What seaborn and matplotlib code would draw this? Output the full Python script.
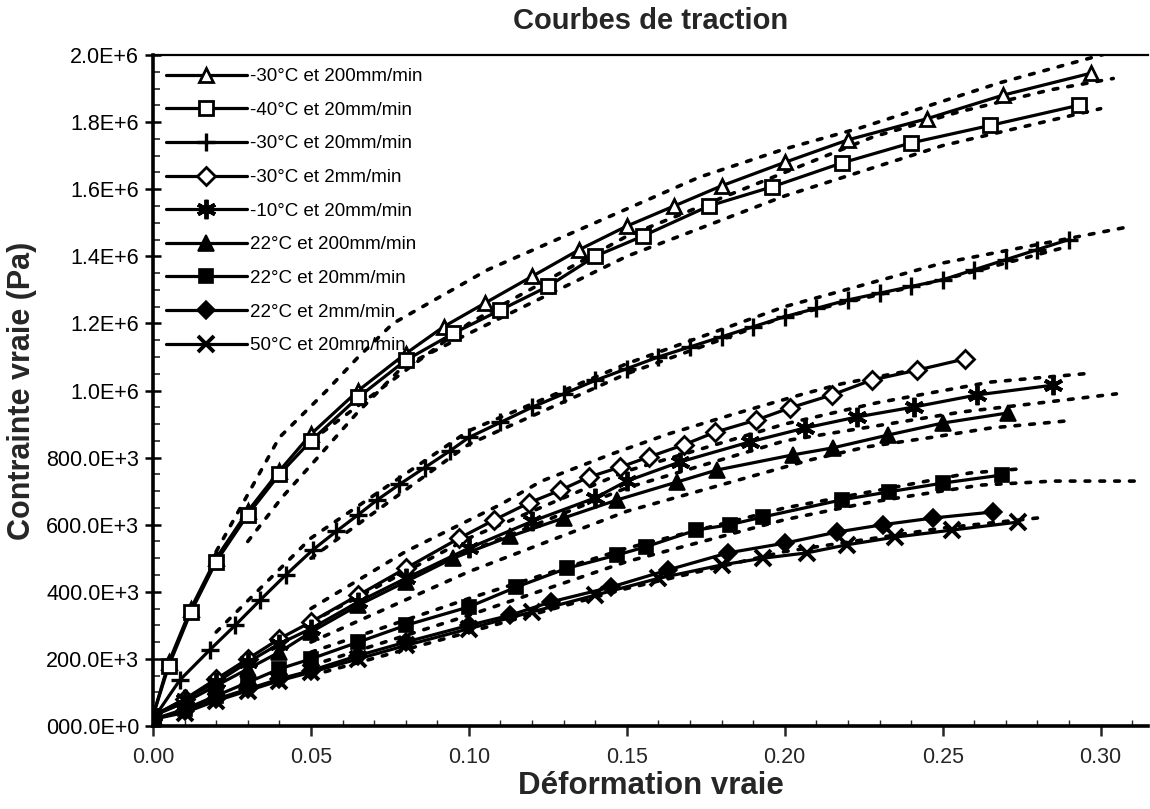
import matplotlib
matplotlib.use("Agg")
import matplotlib.pyplot as plt
from matplotlib.ticker import MultipleLocator
import seaborn as sns

# ---------------- data (true strain, true stress in Pa) ----------------
labels = ["-30°C et 200mm/min", "-40°C et 20mm/min", "-30°C et 20mm/min",
          "-30°C et 2mm/min", "-10°C et 20mm/min", "22°C et 200mm/min",
          "22°C et 20mm/min", "22°C et 2mm/min", "50°C et 20mm/min"]

x_s1 = [0.0, 0.005, 0.012, 0.02, 0.03, 0.04, 0.05, 0.065, 0.08, 0.092, 0.105, 0.12, 0.135,
        0.15, 0.165, 0.18, 0.20, 0.22, 0.245, 0.269, 0.297]
y_s1 = [0.03e6, 0.19e6, 0.35e6, 0.50e6, 0.64e6, 0.76e6, 0.87e6, 1.00e6, 1.11e6, 1.19e6, 1.26e6,
        1.34e6, 1.42e6, 1.49e6, 1.55e6, 1.61e6, 1.68e6, 1.747e6, 1.81e6, 1.88e6, 1.946e6]

x_s2 = [0.0, 0.005, 0.012, 0.02, 0.03, 0.04, 0.05, 0.065, 0.08, 0.095, 0.11, 0.125, 0.14,
        0.155, 0.176, 0.196, 0.218, 0.24, 0.265, 0.293]
y_s2 = [0.03e6, 0.18e6, 0.34e6, 0.49e6, 0.63e6, 0.75e6, 0.85e6, 0.98e6, 1.09e6, 1.17e6, 1.24e6,
        1.31e6, 1.40e6, 1.46e6, 1.55e6, 1.607e6, 1.678e6, 1.738e6, 1.79e6, 1.85e6]

x_s3 = [0.0, 0.0085, 0.018, 0.026, 0.034, 0.042, 0.0506, 0.058, 0.065, 0.071, 0.078, 0.086,
        0.094, 0.10, 0.11, 0.12, 0.13, 0.14, 0.15, 0.16, 0.17, 0.18, 0.19, 0.20, 0.21, 0.22,
        0.23, 0.24, 0.25, 0.26, 0.27, 0.28, 0.29]
y_s3 = [0.02e6, 0.137e6, 0.227e6, 0.30e6, 0.376e6, 0.45e6, 0.525e6, 0.58e6, 0.63e6, 0.674e6,
        0.72e6, 0.77e6, 0.82e6, 0.86e6, 0.905e6, 0.95e6, 0.99e6, 1.03e6, 1.065e6, 1.10e6,
        1.13e6, 1.16e6, 1.19e6, 1.22e6, 1.245e6, 1.27e6, 1.29e6, 1.31e6, 1.33e6, 1.36e6,
        1.39e6, 1.42e6, 1.45e6]

x_s4 = [0.0, 0.01, 0.02, 0.03, 0.04, 0.05, 0.065, 0.08, 0.097, 0.108, 0.119, 0.129, 0.138,
        0.148, 0.157, 0.168, 0.178, 0.191, 0.2016, 0.215, 0.2275, 0.242, 0.257]
y_s4 = [0.03e6, 0.08e6, 0.14e6, 0.20e6, 0.26e6, 0.31e6, 0.39e6, 0.47e6, 0.56e6, 0.614e6,
        0.665e6, 0.703e6, 0.742e6, 0.772e6, 0.802e6, 0.838e6, 0.876e6, 0.912e6, 0.948e6,
        0.987e6, 1.031e6, 1.061e6, 1.094e6]

x_s5 = [0.0, 0.01, 0.02, 0.03, 0.04, 0.05, 0.065, 0.08, 0.10, 0.12, 0.14, 0.15, 0.1668,
        0.189, 0.2063, 0.2228, 0.241, 0.261, 0.285]
y_s5 = [0.03e6, 0.08e6, 0.13e6, 0.19e6, 0.245e6, 0.29e6, 0.37e6, 0.44e6, 0.53e6, 0.61e6,
        0.68e6, 0.73e6, 0.787e6, 0.847e6, 0.888e6, 0.921e6, 0.951e6, 0.987e6, 1.016e6]

x_s6 = [0.0, 0.01, 0.02, 0.03, 0.04, 0.05, 0.065, 0.08, 0.095, 0.113, 0.13, 0.147, 0.1658,
        0.1785, 0.2025, 0.2152, 0.2326, 0.25, 0.2706]
y_s6 = [0.03e6, 0.07e6, 0.12e6, 0.17e6, 0.22e6, 0.28e6, 0.36e6, 0.43e6, 0.50e6, 0.565e6,
        0.62e6, 0.674e6, 0.727e6, 0.763e6, 0.808e6, 0.829e6, 0.867e6, 0.903e6, 0.933e6]

x_s7 = [0.0, 0.01, 0.02, 0.03, 0.04, 0.05, 0.065, 0.08, 0.10, 0.115, 0.131, 0.147, 0.156,
        0.172, 0.1826, 0.193, 0.218, 0.233, 0.25, 0.2687]
y_s7 = [0.02e6, 0.05e6, 0.09e6, 0.13e6, 0.17e6, 0.20e6, 0.25e6, 0.30e6, 0.355e6, 0.414e6,
        0.47e6, 0.51e6, 0.534e6, 0.584e6, 0.60e6, 0.623e6, 0.674e6, 0.698e6, 0.724e6, 0.748e6]

x_s8 = [0.0, 0.01, 0.02, 0.03, 0.04, 0.05, 0.065, 0.08, 0.10, 0.113, 0.126, 0.145, 0.163,
        0.182, 0.2, 0.2165, 0.231, 0.247, 0.266]
y_s8 = [0.02e6, 0.045e6, 0.08e6, 0.11e6, 0.14e6, 0.165e6, 0.21e6, 0.25e6, 0.30e6, 0.33e6,
        0.37e6, 0.414e6, 0.465e6, 0.516e6, 0.545e6, 0.578e6, 0.60e6, 0.62e6, 0.638e6]

x_s9 = [0.0, 0.01, 0.02, 0.03, 0.04, 0.05, 0.065, 0.08, 0.10, 0.12, 0.14, 0.16, 0.18, 0.193,
        0.207, 0.2196, 0.235, 0.253, 0.274]
y_s9 = [0.02e6, 0.04e6, 0.075e6, 0.105e6, 0.135e6, 0.16e6, 0.20e6, 0.24e6, 0.29e6, 0.34e6,
        0.39e6, 0.44e6, 0.48e6, 0.50e6, 0.516e6, 0.54e6, 0.563e6, 0.584e6, 0.608e6]

# dotted (model / bound) curves
xd1 = [0.02, 0.04, 0.055, 0.065, 0.076, 0.091, 0.106, 0.14, 0.173, 0.20, 0.224, 0.268, 0.308]
yd1 = [0.52e6, 0.86e6, 1.00e6, 1.10e6, 1.20e6, 1.28e6, 1.36e6, 1.50e6, 1.636e6, 1.72e6,
       1.783e6, 1.917e6, 2.02e6]
xd2 = [0.05, 0.10, 0.15, 0.20, 0.228, 0.255, 0.284, 0.304]
yd2 = [0.85e6, 1.20e6, 1.46e6, 1.65e6, 1.756e6, 1.83e6, 1.896e6, 1.93e6]
xd3 = [0.03, 0.041, 0.0506, 0.0646, 0.079, 0.10, 0.15, 0.20, 0.25, 0.30]
yd3 = [0.55e6, 0.683e6, 0.784e6, 0.933e6, 1.07e6, 1.17e6, 1.40e6, 1.58e6, 1.73e6, 1.84e6]
xd4 = [0.02, 0.05, 0.10, 0.15, 0.20, 0.25, 0.31]
yd4 = [0.28e6, 0.56e6, 0.88e6, 1.08e6, 1.25e6, 1.38e6, 1.49e6]
xd5 = [0.05, 0.10, 0.15, 0.20, 0.25, 0.29]
yd5 = [0.50e6, 0.84e6, 1.05e6, 1.22e6, 1.33e6, 1.43e6]
xd6 = [0.05, 0.08, 0.11, 0.123, 0.145, 0.163, 0.184, 0.206, 0.218, 0.24]
yd6 = [0.35e6, 0.52e6, 0.66e6, 0.73e6, 0.81e6, 0.87e6, 0.93e6, 0.99e6, 1.02e6, 1.06e6]
xd7 = [0.05, 0.10, 0.15, 0.20, 0.229, 0.248, 0.265, 0.295]
yd7 = [0.31e6, 0.56e6, 0.76e6, 0.90e6, 0.963e6, 0.996e6, 1.025e6, 1.05e6]
xd8 = [0.10, 0.15, 0.20, 0.256, 0.278, 0.305]
yd8 = [0.52e6, 0.71e6, 0.85e6, 0.936e6, 0.96e6, 0.99e6]
xd9 = [0.05, 0.10, 0.15, 0.208, 0.226, 0.247, 0.265, 0.29]
yd9 = [0.25e6, 0.46e6, 0.64e6, 0.793e6, 0.832e6, 0.861e6, 0.888e6, 0.91e6]
xd10 = [0.05, 0.10, 0.15, 0.20, 0.2585, 0.274]
yd10 = [0.22e6, 0.38e6, 0.53e6, 0.65e6, 0.754e6, 0.766e6]
xd11 = [0.05, 0.10, 0.15, 0.20, 0.226, 0.242, 0.262, 0.285, 0.312]
yd11 = [0.18e6, 0.33e6, 0.49e6, 0.615e6, 0.665e6, 0.689e6, 0.718e6, 0.73e6, 0.73e6]
xd12 = [0.05, 0.10, 0.15, 0.20, 0.25, 0.28]
yd12 = [0.15e6, 0.28e6, 0.41e6, 0.52e6, 0.59e6, 0.62e6]

xtick_vals = [0.00, 0.05, 0.10, 0.15, 0.20, 0.25, 0.30]
xtick_labels = ["0.00", "0.05", "0.10", "0.15", "0.20", "0.25", "0.30"]
ytick_vals = [0, 0.2e6, 0.4e6, 0.6e6, 0.8e6, 1.0e6, 1.2e6, 1.4e6, 1.6e6, 1.8e6, 2.0e6]
ytick_labels = ["000.0E+0", "200.0E+3", "400.0E+3", "600.0E+3", "800.0E+3",
                "1.0E+6", "1.2E+6", "1.4E+6", "1.6E+6", "1.8E+6", "2.0E+6"]

# ---------------- style ----------------
sns.set_style("white")
plt.rcParams["font.family"] = ["Liberation Sans", "DejaVu Sans"]

fig = plt.figure(figsize=(11.5, 8.09), dpi=100)
ax = fig.add_axes([153 / 1150, 83 / 809, (1148 - 153) / 1150, (726 - 55) / 809])

dot_kw = dict(color="black", linewidth=2.6, linestyle=(0, (1.3, 2.8)),
              dash_capstyle="round", estimator=None, zorder=2)
for xd, yd in [(xd1, yd1), (xd2, yd2), (xd3, yd3), (xd4, yd4), (xd5, yd5), (xd6, yd6),
               (xd7, yd7), (xd8, yd8), (xd9, yd9), (xd10, yd10), (xd11, yd11), (xd12, yd12)]:
    sns.lineplot(x=xd, y=yd, ax=ax, **dot_kw)

series = [(x_s1, y_s1), (x_s2, y_s2), (x_s3, y_s3), (x_s4, y_s4), (x_s5, y_s5),
          (x_s6, y_s6), (x_s7, y_s7), (x_s8, y_s8), (x_s9, y_s9)]
marker_styles = [
    dict(marker="^", markersize=10.5, markerfacecolor="white", markeredgewidth=2.0),
    dict(marker="s", markersize=9.5, markerfacecolor="white", markeredgewidth=2.0),
    dict(marker="+", markersize=13, markerfacecolor="black", markeredgewidth=2.4),
    dict(marker="D", markersize=9, markerfacecolor="white", markeredgewidth=2.0),
    dict(marker=(6, 2, 0), markersize=14, markerfacecolor="black", markeredgewidth=2.8),
    dict(marker="^", markersize=12, markerfacecolor="black", markeredgewidth=1.2),
    dict(marker="s", markersize=10.5, markerfacecolor="black", markeredgewidth=1.2),
    dict(marker="D", markersize=9.5, markerfacecolor="black", markeredgewidth=1.2),
    dict(marker="x", markersize=12, markerfacecolor="black", markeredgewidth=2.8),
]
for (xs, ys), lab, ms in zip(series, labels, marker_styles):
    sns.lineplot(x=xs, y=ys, ax=ax, color="black", linewidth=2.3, label=lab,
                 markeredgecolor="black", estimator=None, zorder=3, **ms)

ax.set_xlim(0, 0.315)
ax.set_ylim(0, 2.0e6)
ax.set_xticks(xtick_vals)
ax.set_xticklabels(xtick_labels)
ax.set_yticks(ytick_vals)
ax.set_yticklabels(ytick_labels)
ax.yaxis.set_minor_locator(MultipleLocator(0.05e6))
ax.xaxis.set_minor_locator(MultipleLocator(0.01))
ax.tick_params(axis="y", which="major", direction="inout", length=12, width=1.8,
               labelsize=15.5, pad=4, color="black", labelcolor="black", left=True)
ax.tick_params(axis="y", which="minor", direction="in", length=5, width=1.2, left=True)
ax.tick_params(axis="x", which="major", direction="out", length=7, width=1.8,
               labelsize=15.5, pad=8, bottom=True)
ax.tick_params(axis="x", which="minor", direction="in", length=4, width=1.0, bottom=True)

for side in ["left", "bottom"]:
    ax.spines[side].set_linewidth(2.6)
    ax.spines[side].set_color("black")
ax.spines["top"].set_linewidth(1.6)
ax.spines["top"].set_color("black")
ax.spines["right"].set_visible(False)

ax.set_xlabel("Déformation vraie", fontsize=22.5, fontweight="bold", labelpad=2)
ax.set_ylabel("Contrainte vraie (Pa)", fontsize=22, fontweight="bold", labelpad=6)
ax.set_title("Courbes de traction", fontsize=21, fontweight="bold", pad=19)

leg = ax.legend(loc="upper left", bbox_to_anchor=(0.0, 1.0), frameon=False,
                fontsize=13.5, handlelength=4.3, handletextpad=0.2, labelspacing=0.88,
                borderaxespad=0.3)
for t in leg.get_texts():
    t.set_color("black")

fig.savefig("out.png", dpi=100)
